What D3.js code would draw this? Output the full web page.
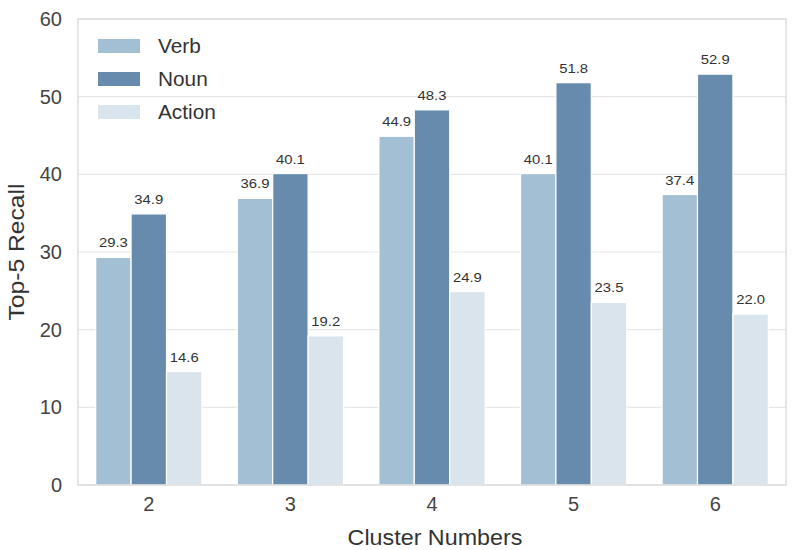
<!DOCTYPE html>
<html>
<head>
<meta charset="utf-8">
<script src="https://cdn.jsdelivr.net/npm/d3@7"></script>
<style>
  html, body { margin: 0; padding: 0; background: #fff; }
  svg { display: block; font-family: "Liberation Sans", Arial, sans-serif; }
</style>
</head>
<body>
<svg id="chart" width="797" height="550"></svg>
<script>
const categories = ["2", "3", "4", "5", "6"];
const seriesNames = ["Verb", "Noun", "Action"];
const verb = [29.3, 36.9, 44.9, 40.1, 37.4];
const noun = [34.9, 40.1, 48.3, 51.8, 52.9];
const action = [14.6, 19.2, 24.9, 23.5, 22.0];
const yTicks = [0, 10, 20, 30, 40, 50, 60];
const colors = ["#a3bfd3", "#668bad", "#d9e4ed"];

const seriesValues = [verb, noun, action];
const data = [];
categories.forEach((c, i) => {
  seriesNames.forEach((s, j) => data.push({ cat: c, series: s, value: seriesValues[j][i], color: colors[j] }));
});

const svg = d3.select("#chart");
const margin = { left: 78, right: 11, top: 19, bottom: 65 };
const W = 797, H = 550;
const x = d3.scaleBand().domain(categories).range([margin.left, W - margin.right]).padding(0);
const y = d3.scaleLinear().domain([0, 60]).range([H - margin.bottom, margin.top]);

const groupFrac = 0.75;
const inner = d3.scaleBand().domain(seriesNames).range([0, x.bandwidth() * groupFrac]).padding(0);
const offset = x.bandwidth() * (1 - groupFrac) / 2;

// helper: text stretched horizontally along its own direction
function stretchedText(g, px, py, str, opts) {
  const rot = opts.rotate || 0;
  const sx = opts.sx || 1;
  return g.append("text")
    .attr("transform", `translate(${px},${py}) rotate(${rot}) scale(${sx},1)`)
    .attr("text-anchor", opts.anchor || "start")
    .attr("font-size", opts.size)
    .attr("fill", opts.fill || "#333")
    .text(str);
}

// grid
svg.append("g").selectAll("line").data(yTicks).join("line")
  .attr("x1", margin.left).attr("x2", W - margin.right)
  .attr("y1", d => y(d)).attr("y2", d => y(d))
  .attr("stroke", "#e8e8e8").attr("stroke-width", 1.2);

// bars
svg.append("g").selectAll("rect").data(data).join("rect")
  .attr("x", d => x(d.cat) + offset + inner(d.series))
  .attr("width", inner.bandwidth())
  .attr("y", d => y(d.value))
  .attr("height", d => y(0) - y(d.value))
  .attr("fill", d => d.color)
  .attr("stroke", "#fff").attr("stroke-width", 1.2);

// value labels
const vl = svg.append("g");
data.forEach(d => {
  stretchedText(vl, x(d.cat) + offset + inner(d.series) + inner.bandwidth() / 2, y(d.value) - 10,
    d.value.toFixed(1), { anchor: "middle", size: 13.5, sx: 1.1, fill: "#333" });
});

// spines
svg.append("rect")
  .attr("x", margin.left).attr("y", margin.top)
  .attr("width", W - margin.right - margin.left).attr("height", H - margin.bottom - margin.top)
  .attr("fill", "none").attr("stroke", "#d6d6d6").attr("stroke-width", 1.2);

// y axis
const yAxis = d3.axisLeft(y).tickValues(yTicks).tickSize(0).tickPadding(16);
const yg = svg.append("g").attr("transform", `translate(${margin.left},0)`).call(yAxis);
yg.select(".domain").remove();
yg.selectAll("text").attr("font-size", 20).attr("fill", "#444").attr("font-family", "Liberation Sans, Arial, sans-serif");

// x axis
const xAxis = d3.axisBottom(x).tickSize(0).tickPadding(12);
const xg = svg.append("g").attr("transform", `translate(0,${H - margin.bottom})`).call(xAxis);
xg.select(".domain").remove();
xg.selectAll("text").attr("font-size", 20).attr("fill", "#444").attr("font-family", "Liberation Sans, Arial, sans-serif");

// axis titles
const tg = svg.append("g");
stretchedText(tg, (margin.left + W - margin.right) / 2 + 3, 545, "Cluster Numbers", { anchor: "middle", size: 22, sx: 1.06 });
stretchedText(tg, 24, 252, "Top-5 Recall", { anchor: "middle", size: 22, sx: 1.12, rotate: -90 });

// legend
const lg = svg.append("g");
seriesNames.forEach((s, j) => {
  const yy = 39 + j * 33;
  lg.append("rect").attr("x", 98).attr("y", yy).attr("width", 42).attr("height", 14).attr("fill", colors[j]);
  stretchedText(lg, 158, yy + 14, s, { size: 20, sx: 1.04 });
});
</script>
</body>
</html>
